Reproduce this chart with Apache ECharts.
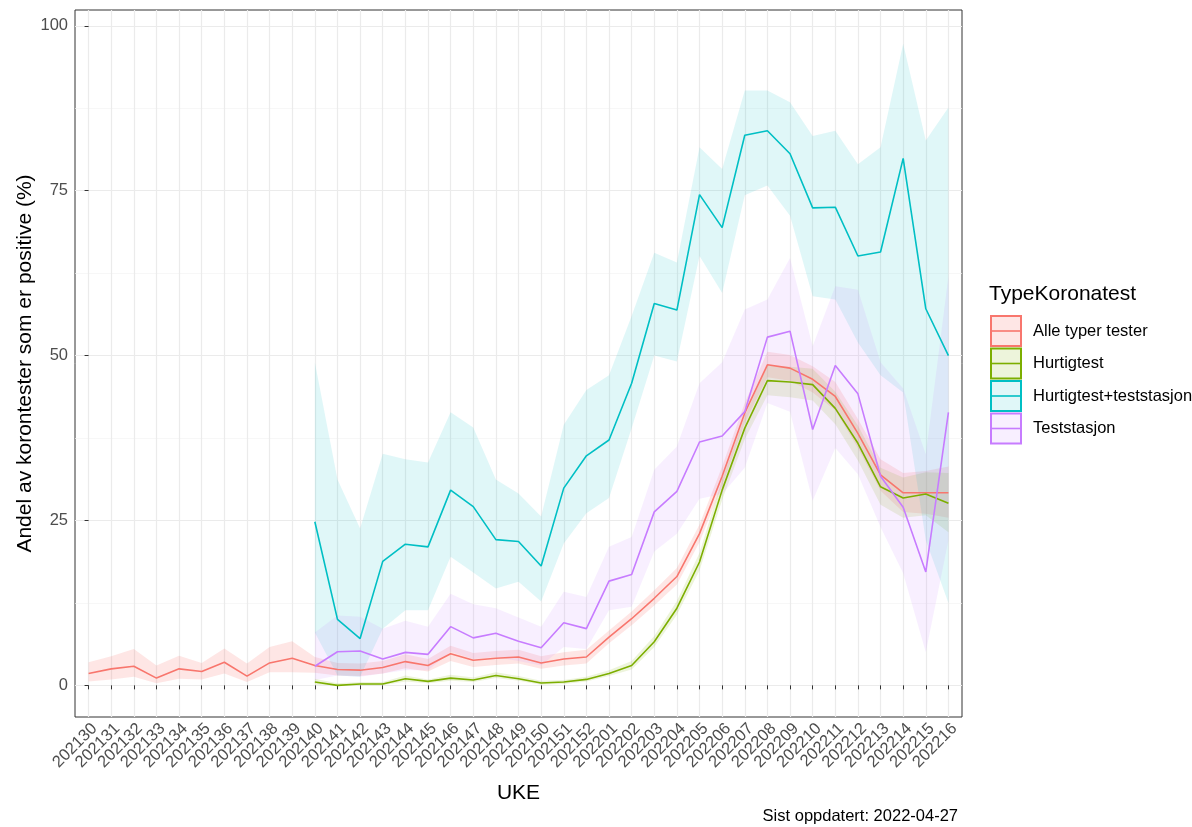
<!DOCTYPE html>
<html>
<head>
<meta charset="utf-8">
<script src="https://cdn.jsdelivr.net/npm/echarts@6/dist/echarts.min.js"></script>
<style>html,body{margin:0;padding:0;background:#fff}#c{width:1192px;height:827px}</style>
</head>
<body>
<div id="c"></div>
<script>
const weeks = ['202130','202131','202132','202133','202134','202135','202136','202137','202138','202139',
  '202140','202141','202142','202143','202144','202145','202146','202147','202148','202149','202150','202151','202152',
  '202201','202202','202203','202204','202205','202206','202207','202208','202209','202210','202211','202212','202213','202214','202215','202216'];
const N = null;
const alle   = [1.8,2.5,2.9,1.1,2.5,2.1,3.5,1.4,3.4,4.1, 3.0,2.4,2.3,2.7,3.6,3.0,4.8,3.8,4.1,4.3,3.4,4.0,4.3, 7.3,10.1,13.2,16.5,23.0,31.7,41.3,48.6,48.1,46.4,43.8,38.2,31.9,29.2,29.2,29.2];
const alleLo = [0.6,0.9,1.3,0.3,1.0,0.9,1.8,0.5,2.0,2.0, 1.9,1.5,1.4,1.8,2.6,2.1,3.7,2.8,3.1,3.3,2.5,3.0,3.3, 6.4,9.1,12.1,15.3,21.7,30.3,39.8,46.7,46.2,44.4,41.7,36.0,29.5,26.3,26.0,25.4];
const alleHi = [3.5,4.4,5.5,3.0,4.5,3.4,5.6,3.3,5.8,6.7, 4.3,3.4,3.3,3.7,4.7,4.0,6.0,4.9,5.2,5.4,4.4,5.0,5.4, 8.3,11.2,14.4,17.8,24.4,33.2,42.8,50.6,50.1,48.4,46.0,40.4,34.3,32.2,32.5,33.2];

const hurtig   = [N,N,N,N,N,N,N,N,N,N, 0.5,0.0,0.2,0.2,1.0,0.6,1.1,0.8,1.5,1.0,0.35,0.5,0.9, 1.8,3.0,6.6,11.7,18.7,29.6,39.0,46.2,46.0,45.6,42.0,36.7,30.1,28.4,29.0,27.6];
const hurtigLo = [N,N,N,N,N,N,N,N,N,N, 0.1,0.0,0.0,0.0,0.6,0.3,0.7,0.5,1.1,0.7,0.1,0.2,0.6, 1.4,2.4,5.8,10.7,17.4,28.1,37.3,44.0,43.7,43.2,39.6,34.1,27.4,25.4,25.8,23.2];
const hurtigHi = [N,N,N,N,N,N,N,N,N,N, 1.0,0.3,0.5,0.5,1.5,0.9,1.6,1.2,2.0,1.4,0.7,0.8,1.3, 2.3,3.7,7.5,12.8,20.1,31.2,40.8,48.5,48.3,48.0,44.5,39.4,33.0,31.5,32.3,32.2];

const kombi   = [N,N,N,N,N,N,N,N,N,N, 24.8,10.0,7.1,18.8,21.4,21.0,29.6,27.1,22.1,21.8,18.1,29.9,34.8, 37.2,45.8,57.9,56.9,74.4,69.4,83.4,84.1,80.6,72.4,72.5,65.1,65.7,79.9,57.1,50.0];
const kombiLo = [N,N,N,N,N,N,N,N,N,N, 8.0,1.5,1.3,8.6,11.4,11.4,19.5,17.1,14.7,15.7,12.7,21.5,26.1, 28.4,39.0,50.0,49.1,65.1,59.5,74.3,75.8,71.2,59.0,58.5,52.0,47.0,44.4,22.0,12.5];
const kombiHi = [N,N,N,N,N,N,N,N,N,N, 49.0,31.2,23.8,35.1,34.3,33.8,41.4,39.1,31.2,29.1,25.6,39.5,44.8, 47.0,56.0,65.6,64.1,81.6,78.3,90.2,90.2,88.4,83.3,84.1,79.0,81.6,97.3,82.6,87.6];

const stasjon   = [N,N,N,N,N,N,N,N,N,N, 2.9,5.1,5.2,4.0,5.0,4.7,8.9,7.2,7.9,6.7,5.7,9.5,8.6, 15.8,16.8,26.3,29.4,36.9,37.8,41.5,52.8,53.7,38.8,48.5,44.2,31.7,27.0,17.2,41.4];
const stasjonLo = [N,N,N,N,N,N,N,N,N,N, 0.8,1.5,1.3,1.8,2.3,2.3,5.1,4.0,4.3,3.7,3.0,5.8,5.5, 11.4,11.9,20.3,23.0,28.3,29.0,33.0,42.8,41.5,28.0,36.0,32.0,24.0,17.0,5.0,22.0];
const stasjonHi = [N,N,N,N,N,N,N,N,N,N, 8.0,10.6,10.4,8.6,9.8,8.9,13.9,12.3,11.7,10.3,8.9,14.2,13.4, 21.0,22.5,32.7,36.2,45.8,49.0,57.0,58.5,64.8,51.4,60.5,60.0,49.0,45.0,35.0,62.0];

const seriesNames = ['Alle typer tester','Hurtigtest','Hurtigtest+teststasjon','Teststasjon'];
const yTicks = [0,25,50,75,100];
const yMinor = [12.5,37.5,62.5,87.5];

const FONT = '"Liberation Sans", Arial, Helvetica, sans-serif';
const colors = ['#F8766D','#7CAE00','#00BFC4','#C77CFF'];
const fills = ['rgba(248,118,109,0.18)','rgba(124,174,0,0.14)','rgba(0,191,196,0.12)','rgba(199,124,255,0.12)'];
const idx = weeks.map((w,i)=>i);
const idxEven = idx.filter(i=>i%2===0);
const idxOdd = idx.filter(i=>i%2===1);
const pts = arr => arr.map((v,i)=> (v==null ? [i,'-'] : [i,v]));

const mains = [alle, hurtig, kombi, stasjon];
const los = [alleLo, hurtigLo, kombiLo, stasjonLo];
const his = [alleHi, hurtigHi, kombiHi, stasjonHi];

const series = [];
mains.forEach((m,k)=>{
  const lo = los[k], hi = his[k];
  const data = idx.filter(i=>lo[i]!=null).map(i=>[i, lo[i], hi[i]]);
  series.push({
    type:'custom', name:'band'+k, data, silent:true, z:1,
    encode:{x:0, y:[1,2]},
    renderItem(params, api){
      if (params.dataIndex !== 0) return null;
      const upper = data.map(d=>api.coord([d[0], d[2]]));
      const lower = data.map(d=>api.coord([d[0], d[1]])).reverse();
      return {type:'polygon', shape:{points: upper.concat(lower)}, style:{fill: fills[k]}};
    }
  });
});
mains.forEach((m,k)=>{
  series.push({type:'line', name: seriesNames[k], data: pts(m), symbol:'rect', showSymbol:false,
    lineStyle:{color:colors[k], width:1.6},
    itemStyle:{color:fills[k], borderColor:colors[k], borderWidth:2},
    z:3, emphasis:{disabled:true}});
});

const labelStyle = {rotate:45, margin:3, showMinLabel:true, showMaxLabel:true, hideOverlap:false, verticalAlign:'top',
  formatter: v => weeks[Math.round(v)], fontSize:16.5, color:'#4d4d4d', fontFamily:FONT};

const chart = echarts.init(document.getElementById('c'), null, {renderer:'canvas'});
chart.setOption({
  animation:false,
  backgroundColor:'#fff',
  textStyle:{fontFamily:FONT},
  grid:{left:75, top:10, right:230, bottom:110, show:true, borderColor:'#333', borderWidth:1, backgroundColor:'transparent', containLabel:false},
  title:[
    {text:'TypeKoronatest', left:989, top:284, padding:0, textStyle:{fontSize:21, fontWeight:'normal', color:'#000', fontFamily:FONT}},
    {text:'Sist oppdatert: 2022-04-27', right:234, top:808, padding:0, textStyle:{fontSize:16.5, fontWeight:'normal', color:'#000', fontFamily:FONT}}
  ],
  legend:{
    data: seriesNames.map((n,k)=>({name:n, itemStyle:{color:fills[k], borderColor:colors[k], borderWidth:2}, lineStyle:{color:colors[k], width:1.6}})),
    orient:'vertical', left:990, top:315, padding:0, itemWidth:30, itemHeight:37.5, itemGap:0.5, selectedMode:false,
    textStyle:{fontSize:16.5, color:'#000', fontFamily:FONT, padding:[0,0,0,7]}
  },
  xAxis:[
    {type:'value', min:-0.6, max:38.6, position:'bottom',
     name:'UKE', nameLocation:'middle', nameGap:66,
     nameTextStyle:{fontSize:21, color:'#000', fontFamily:FONT},
     axisLine:{show:false},
     axisTick:{show:true, length:4, lineStyle:{color:'#333'}, customValues: idx},
     axisLabel:Object.assign({customValues: idxEven}, labelStyle),
     splitLine:{show:true, lineStyle:{color:'#ebebeb', width:1.2}}},
    {type:'value', min:-0.6, max:38.6, position:'bottom', offset:0,
     axisLine:{show:false},
     axisTick:{show:false, customValues: idxOdd},
     axisLabel:Object.assign({customValues: idxOdd}, labelStyle),
     splitLine:{show:false}}
  ],
  yAxis:[
    {type:'value', min:-4.8, max:102.4,
     name:'Andel av korontester som er positive (%)', nameLocation:'middle', nameGap:39, nameMoveOverlap:false,
     nameTextStyle:{fontSize:21, color:'#000', fontFamily:FONT},
     axisLine:{show:false},
     axisTick:{show:true, length:4, lineStyle:{color:'#333'}, customValues: yTicks},
     axisLabel:{customValues: yTicks, margin:7, fontSize:16.5, color:'#4d4d4d', fontFamily:FONT},
     splitLine:{show:true, lineStyle:{color:'#ebebeb', width:1.2}}},
    {type:'value', min:-4.8, max:102.4, position:'left',
     axisLine:{show:false}, axisTick:{show:false, customValues: yMinor}, axisLabel:{show:false, customValues: yMinor},
     splitLine:{show:true, lineStyle:{color:'#f3f3f3', width:0.7}}}
  ],
  series: series
});
</script>
</body>
</html>
